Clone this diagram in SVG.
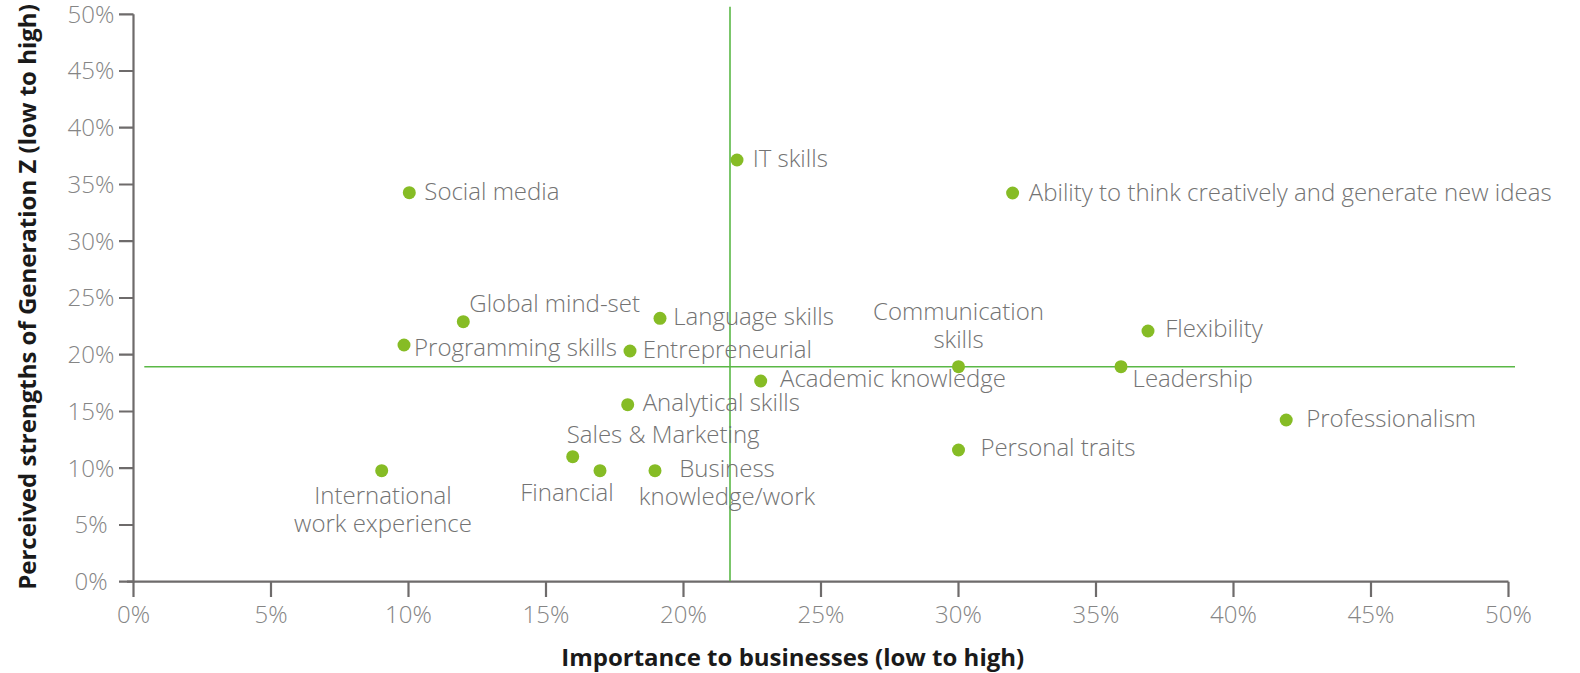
<svg xmlns="http://www.w3.org/2000/svg" width="1580" height="673" viewBox="0 0 1580 673">
<style>
.axis{stroke:#6e6b6b;stroke-width:2.2;fill:none}
.ref{stroke:#5ab846;stroke-width:1.6;fill:none}
.tick{font-family:"Open Sans","Liberation Sans",sans-serif;font-weight:300;font-size:24px;fill:#858585}
.lbl{font-family:"Open Sans","Liberation Sans",sans-serif;font-weight:300;font-size:24px;fill:#737373}
.title{font-family:"Open Sans","Liberation Sans",sans-serif;font-weight:700;font-size:24px;fill:#1a1a1a}
.dot{fill:#86bc25}
</style>
<rect width="1580" height="673" fill="#ffffff"/>
<g id="axes">
<path class="axis" d="M133.5 14.3V582.8M119 14.3H133.5M119 71H133.5M119 127.7H133.5M119 184.5H133.5M119 241.2H133.5M119 298H133.5M119 354.7H133.5M119 411.5H133.5M119 468.2H133.5M119 525H133.5M119 581.7H133.5"/>
<path class="axis" d="M127 581.7H1508.5M133.5 581.7V597M271 581.7V597M408.5 581.7V597M546 581.7V597M683.5 581.7V597M821 581.7V597M958.5 581.7V597M1096 581.7V597M1233.5 581.7V597M1371 581.7V597M1508.5 581.7V597"/>
<g class="tick" text-anchor="middle">
<text x="91" y="22.6">50%</text>
<text x="91" y="79.3">45%</text>
<text x="91" y="136">40%</text>
<text x="91" y="192.8">35%</text>
<text x="91" y="249.5">30%</text>
<text x="91" y="306.3">25%</text>
<text x="91" y="363">20%</text>
<text x="91" y="419.8">15%</text>
<text x="91" y="476.5">10%</text>
<text x="91" y="533.3">5%</text>
<text x="91" y="590">0%</text>
<text x="133.5" y="622.5">0%</text>
<text x="271" y="622.5">5%</text>
<text x="408.5" y="622.5">10%</text>
<text x="546" y="622.5">15%</text>
<text x="683.5" y="622.5">20%</text>
<text x="821" y="622.5">25%</text>
<text x="958.5" y="622.5">30%</text>
<text x="1096" y="622.5">35%</text>
<text x="1233.5" y="622.5">40%</text>
<text x="1371" y="622.5">45%</text>
<text x="1508.5" y="622.5">50%</text>
</g>
<text class="title" x="792.7" y="665.5" text-anchor="middle">Importance to businesses (low to high)</text>
<text class="title" transform="translate(35.5 297) rotate(-90)" text-anchor="middle">Perceived strengths of Generation Z (low to high)</text>
</g>
<g id="connectors">
<path class="ref" d="M144.3 366.7H1515"/>
<path class="ref" d="M730 6.7V581"/>
</g>
<g id="it-skills"><circle class="dot" cx="737" cy="160" r="6.5"/><text class="lbl" x="752.7" y="166.7">IT skills</text></g>
<g id="social-media"><circle class="dot" cx="409.3" cy="192.7" r="6.5"/><text class="lbl" x="424.3" y="200">Social media</text></g>
<g id="ability"><circle class="dot" cx="1012.6" cy="193" r="6.5"/><text class="lbl" x="1028.8" y="200.5">Ability to think creatively and generate new ideas</text></g>
<g id="global-mindset"><circle class="dot" cx="463.3" cy="321.7" r="6.5"/><text class="lbl" x="469.3" y="312.3">Global mind-set</text></g>
<g id="language-skills"><circle class="dot" cx="660" cy="318.3" r="6.5"/><text class="lbl" x="673.3" y="325">Language skills</text></g>
<g id="programming-skills"><circle class="dot" cx="404" cy="345" r="6.5"/><text class="lbl" x="414" y="356">Programming skills</text></g>
<g id="entrepreneurial"><circle class="dot" cx="630" cy="351" r="6.5"/><text class="lbl" x="642.7" y="358.3">Entrepreneurial</text></g>
<g id="communication-skills"><circle class="dot" cx="958.5" cy="366.7" r="6.5"/><text class="lbl" x="958.5" y="320" text-anchor="middle">Communication</text><text class="lbl" x="958.5" y="348.3" text-anchor="middle">skills</text></g>
<g id="leadership"><circle class="dot" cx="1121" cy="366.7" r="6.5"/><text class="lbl" x="1132.6" y="387.3">Leadership</text></g>
<g id="flexibility"><circle class="dot" cx="1148" cy="331" r="6.5"/><text class="lbl" x="1165.2" y="337.3">Flexibility</text></g>
<g id="academic-knowledge"><circle class="dot" cx="760.7" cy="381" r="6.5"/><text class="lbl" x="780" y="387.3">Academic knowledge</text></g>
<g id="analytical-skills"><circle class="dot" cx="627.7" cy="404.7" r="6.5"/><text class="lbl" x="642.7" y="411">Analytical skills</text></g>
<g id="professionalism"><circle class="dot" cx="1286.2" cy="420" r="6.5"/><text class="lbl" x="1306.2" y="426.7">Professionalism</text></g>
<g id="personal-traits"><circle class="dot" cx="958.5" cy="450" r="6.5"/><text class="lbl" x="980.4" y="456">Personal traits</text></g>
<g id="sales-marketing"><circle class="dot" cx="572.7" cy="456.7" r="6.5"/><text class="lbl" x="566.7" y="443.3">Sales &amp; Marketing</text></g>
<g id="financial"><circle class="dot" cx="600" cy="470.7" r="6.5"/><text class="lbl" x="567" y="501" text-anchor="middle">Financial</text></g>
<g id="business-knowledge"><circle class="dot" cx="655" cy="470.7" r="6.5"/><text class="lbl" x="727" y="477.3" text-anchor="middle">Business</text><text class="lbl" x="727" y="505" text-anchor="middle">knowledge/work</text></g>
<g id="international"><circle class="dot" cx="381.7" cy="470.7" r="6.5"/><text class="lbl" x="383" y="504" text-anchor="middle">International</text><text class="lbl" x="383" y="532" text-anchor="middle">work experience</text></g>
</svg>
